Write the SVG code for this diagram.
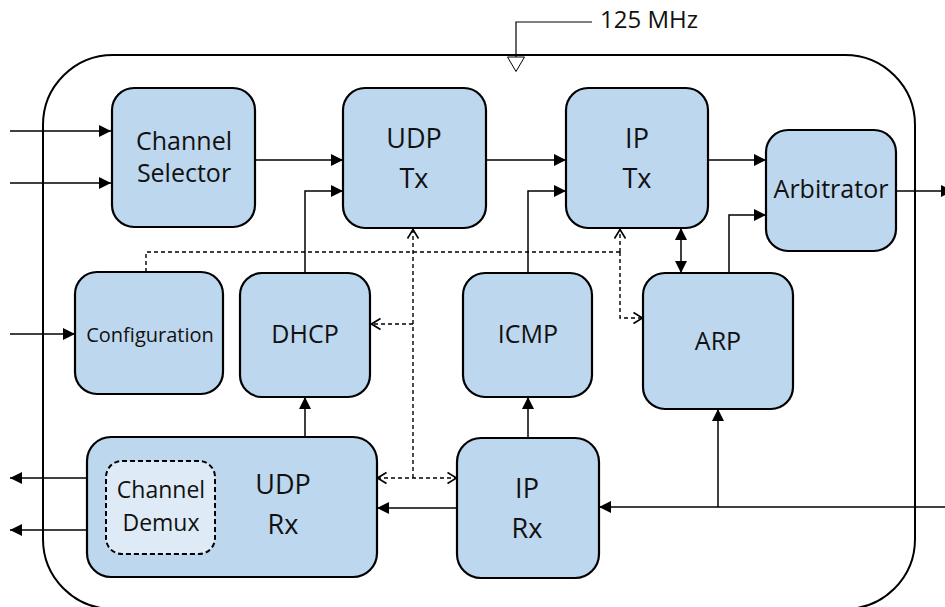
<svg xmlns="http://www.w3.org/2000/svg" width="945" height="607" viewBox="0 0 945 607">
  <style>
    .box { fill: #BDD7EE; stroke: #000; stroke-width: 2.2; }
    .inner { fill: #DEEBF7; stroke: #000; stroke-width: 2; stroke-dasharray: 5 3; }
    .frame { fill: none; stroke: #000; stroke-width: 2; }
    .wire { fill: none; stroke: #000; stroke-width: 1.5; }
    .dash { fill: none; stroke: #000; stroke-width: 1.4; stroke-dasharray: 4 3; }
    text { font-family: "Open Sans", "Liberation Sans", sans-serif; fill: #111; text-anchor: middle; }
    .t25 { font-size: 25px; }
    .t27 { font-size: 27px; }
    .t23 { font-size: 23px; }
    .t20 { font-size: 20px; }
  </style>
  <defs>
    <marker id="arr" viewBox="0 0 12 12" refX="12" refY="6" markerWidth="12" markerHeight="12" markerUnits="userSpaceOnUse" orient="auto-start-reverse">
      <path d="M0,0 L12,6 L0,12 z" fill="#000"/>
    </marker>
    <marker id="chev" viewBox="0 0 11 14" refX="10.5" refY="7" markerWidth="11" markerHeight="14" markerUnits="userSpaceOnUse" orient="auto-start-reverse">
      <path d="M1,1.5 L10,7 L1,12.5" fill="none" stroke="#000" stroke-width="1.6"/>
    </marker>
  </defs>

  <!-- enclosing block -->
  <rect class="frame" x="43" y="55" width="872" height="554" rx="70" ry="70"/>

  <!-- clock input -->
  <g id="clock">
    <path d="M592,22 H516 V57" fill="none" stroke="#000" stroke-width="1.2"/>
    <path d="M507.5,57 L524.5,57 L516,71.5 z" fill="#fff" stroke="#000" stroke-width="1"/>
    <text x="600" y="28" style="text-anchor:start;font-size:24px">125 MHz</text>
  </g>

  <!-- connectors -->
  <g id="connectors">
    <path class="wire" d="M10,131 H111" marker-end="url(#arr)"/>
    <path class="wire" d="M10,183 H111" marker-end="url(#arr)"/>
    <path class="wire" d="M255,160 H343" marker-end="url(#arr)"/>
    <path class="wire" d="M305,273 V191 H343" marker-end="url(#arr)"/>
    <path class="wire" d="M486,160 H566" marker-end="url(#arr)"/>
    <path class="wire" d="M528,273 V191 H566" marker-end="url(#arr)"/>
    <path class="wire" d="M708,160 H766" marker-end="url(#arr)"/>
    <path class="wire" d="M729,273 V215 H766" marker-end="url(#arr)"/>
    <path class="wire" d="M897,191 H953" marker-end="url(#arr)"/>
    <path class="wire" d="M681,228 V273" marker-start="url(#arr)" marker-end="url(#arr)"/>
    <path class="wire" d="M10,334 H75" marker-end="url(#arr)"/>
    <path class="wire" d="M305,437 V397" marker-end="url(#arr)"/>
    <path class="wire" d="M528,438 V397" marker-end="url(#arr)"/>
    <path class="wire" d="M457,508 H377" marker-end="url(#arr)"/>
    <path class="wire" d="M945,507 H599" marker-end="url(#arr)"/>
    <path class="wire" d="M718,507 V409" marker-end="url(#arr)"/>
    <path class="wire" d="M106,478 H10" marker-end="url(#arr)"/>
    <path class="wire" d="M106,530 H10" marker-end="url(#arr)"/>

    <!-- configuration / control paths -->
    <path class="dash" d="M146,272 V252 H620"/>
    <path class="dash" d="M413,478 V229" marker-end="url(#chev)"/>
    <path class="dash" d="M413,324 H371" marker-end="url(#chev)"/>
    <path class="dash" d="M620,252 V229" marker-end="url(#chev)"/>
    <path class="dash" d="M620,252 V318 H643" marker-end="url(#chev)"/>
    <path class="dash" d="M377,478 H457" marker-start="url(#chev)" marker-end="url(#chev)"/>
  </g>

  <g id="channel-selector">
    <rect class="box" x="112" y="88" width="143" height="139" rx="22"/>
    <text x="184" y="150" class="t25">Channel</text>
    <text x="184" y="182" class="t25">Selector</text>
  </g>

  <g id="udp-tx">
    <rect class="box" x="343" y="88" width="143" height="140" rx="22"/>
    <text x="414" y="148" class="t27">UDP</text>
    <text x="414" y="188" class="t27">Tx</text>
  </g>

  <g id="ip-tx">
    <rect class="box" x="566" y="88" width="142" height="140" rx="22"/>
    <text x="637" y="148" class="t27">IP</text>
    <text x="637" y="188" class="t27">Tx</text>
  </g>

  <g id="arbitrator">
    <rect class="box" x="766" y="130" width="130" height="121" rx="22"/>
    <text x="831" y="198" class="t25">Arbitrator</text>
  </g>

  <g id="configuration">
    <rect class="box" x="75" y="272" width="148" height="122" rx="22"/>
    <text x="150" y="342" class="t20">Configuration</text>
  </g>

  <g id="dhcp">
    <rect class="box" x="240" y="273" width="130" height="124" rx="22"/>
    <text x="305" y="343" class="t25">DHCP</text>
  </g>

  <g id="icmp">
    <rect class="box" x="463" y="273" width="129" height="124" rx="22"/>
    <text x="528" y="343" class="t25">ICMP</text>
  </g>

  <g id="arp">
    <rect class="box" x="643" y="273" width="150" height="136" rx="22"/>
    <text x="718" y="350" class="t25">ARP</text>
  </g>

  <g id="udp-rx">
    <rect class="box" x="87" y="437" width="290" height="140" rx="24"/>
    <text x="283" y="494" class="t27">UDP</text>
    <text x="283" y="534" class="t27">Rx</text>
  </g>

  <g id="channel-demux">
    <rect class="inner" x="106" y="461" width="109" height="93" rx="16"/>
    <text x="161" y="498" class="t23">Channel</text>
    <text x="161" y="531" class="t23">Demux</text>
  </g>

  <g id="ip-rx">
    <rect class="box" x="457" y="438" width="142" height="140" rx="24"/>
    <text x="527" y="498" class="t27">IP</text>
    <text x="527" y="538" class="t27">Rx</text>
  </g>
</svg>
